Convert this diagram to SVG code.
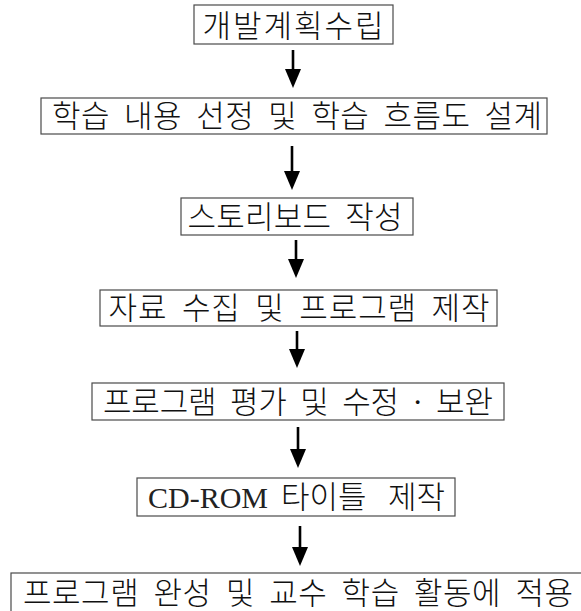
<svg xmlns="http://www.w3.org/2000/svg" width="581" height="611" viewBox="0 0 581 611">
<style>
.box{fill:#fff;stroke:#4a4a4a;stroke-width:1.2}
.t{font-family:"Liberation Serif","Noto Sans CJK KR",serif;font-size:31px;font-weight:300;fill:#111;text-anchor:middle;word-spacing:6px}
.s{text-anchor:start;letter-spacing:0}
.lat{font-size:30px;font-weight:400;fill:#222}
.c{stroke:#000;stroke-width:2.6;fill:none}
</style>
<rect width="581" height="611" fill="#fff"/>
<g id="connectors">
<line class="c" x1="293" y1="50" x2="293" y2="70"/><path d="M285,69 L301,69 L293,88 Z"/>
<line class="c" x1="292" y1="146" x2="292" y2="172"/><path d="M284,171 L300,171 L292,190 Z"/>
<line class="c" x1="296" y1="240" x2="296" y2="260"/><path d="M288,259 L304,259 L296,278 Z"/>
<line class="c" x1="297" y1="331" x2="297" y2="350"/><path d="M289,349 L305,349 L297,368 Z"/>
<line class="c" x1="298" y1="427" x2="298" y2="450"/><path d="M290,449 L306,449 L298,468 Z"/>
<line class="c" x1="300" y1="526" x2="300" y2="548"/><path d="M292,547 L308,547 L300,566 Z"/>
</g>
<g id="n1"><rect class="box" x="194" y="5" width="199" height="39"/><text class="t" x="293" y="37" textLength="181" lengthAdjust="spacing">개발계획수립</text></g>
<g id="n2"><rect class="box" x="41" y="98" width="506" height="36"/><text class="t" x="297" y="127" textLength="490" lengthAdjust="spacing">학습 내용 선정 및 학습 흐름도 설계</text></g>
<g id="n3"><rect class="box" x="181" y="198" width="232" height="37"/><text class="t" x="295" y="228" textLength="215" lengthAdjust="spacing">스토리보드 작성</text></g>
<g id="n4"><rect class="box" x="100" y="290" width="397" height="36"/><text class="t" x="299" y="319" textLength="381" lengthAdjust="spacing">자료 수집 및 프로그램 제작</text></g>
<g id="n5"><rect class="box" x="92" y="383" width="412" height="37"/><text class="t" x="298" y="413" textLength="390" lengthAdjust="spacing">프로그램 평가 및 수정 · 보완</text></g>
<g id="n6"><rect class="box" x="137" y="478" width="318" height="38"/><text class="t s" y="508"><tspan class="lat" x="148">CD-ROM</tspan><tspan x="281">타이틀</tspan><tspan x="388">제작</tspan></text></g>
<g id="n7"><rect class="box" x="11" y="573" width="590" height="50"/><text class="t" x="298" y="604" textLength="550" lengthAdjust="spacing">프로그램 완성 및 교수 학습 활동에 적용</text></g>
</svg>
